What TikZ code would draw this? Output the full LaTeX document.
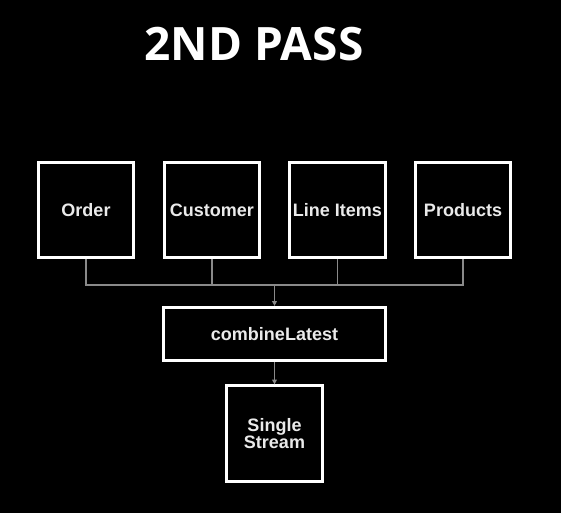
\documentclass[tikz,border=0pt]{standalone}
\usepackage{fontspec}
\setmainfont{Liberation Sans}
\newfontfamily\titlefont{Open Sans}
\usetikzlibrary{arrows.meta}
\definecolor{txt}{HTML}{EAEAEA}
\definecolor{conn}{HTML}{8A8A8A}
\begin{document}
\begin{tikzpicture}[x=0.75pt,y=-0.75pt,
  box/.style={draw=white,line width=2.2pt,fill=black,text=txt,font=\bfseries\fontsize{13.5}{15}\selectfont,
    inner sep=0pt,align=center},
  sq/.style={box,minimum width=71.5pt,minimum height=71.5pt},
  conline/.style={draw=conn,line width=0.9pt},
  arr/.style={conline,-{Triangle[width=3.5pt,length=3.5pt]}}]
\fill[black] (0,0) rectangle (561,513);
\useasboundingbox (0,0) rectangle (561,513);
\node[text=white,font=\titlefont\bfseries\fontsize{34.5}{38}\selectfont] (title) at (254,44) {2ND PASS};
\node[sq] (order) at (86,210) {Order};
\node[sq] (cust) at (212,210) {Customer};
\node[sq] (line) at (337.5,210) {Line Items};
\node[sq] (prod) at (463,210) {Products};
\node[box,minimum width=166pt,minimum height=40pt] (comb) at (274.5,334) {combineLatest};
\node[sq] (single) at (274.5,433.5) {Single\\[-2pt]Stream};
\coordinate (j1) at (86,285);
\coordinate (j4) at (463,285);
\coordinate (jm) at (274.5,285);
\draw[conline] (order.south) -- (j1) -- (j4) -- (prod.south);
\draw[conline] (cust.south) -- (cust.south |- j1);
\draw[conline] (line.south) -- (line.south |- j1);
\draw[arr] (jm) -- (comb.north);
\draw[arr] (comb.south) -- (single.north);
\end{tikzpicture}
\end{document}
